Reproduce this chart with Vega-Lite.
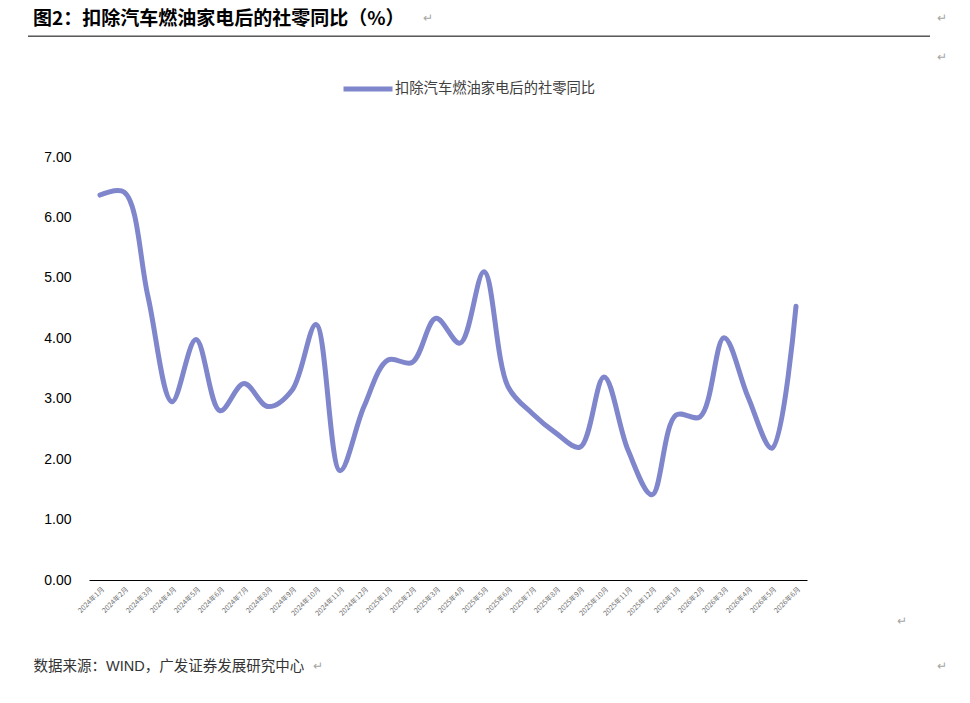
{
  "$schema": "https://vega.github.io/schema/vega-lite/v6.json",
  "autosize": {"type": "none"},
  "width": 718,
  "height": 423,
  "padding": {"left": 89, "top": 157, "right": 163, "bottom": 123},
  "background": "white",
  "config": {
    "view": {"stroke": null},
    "font": "Liberation Sans, Noto Sans CJK SC"
  },
  "title": {
    "text": "图2：扣除汽车燃油家电后的社零同比（%）",
    "anchor": "start",
    "frame": "group",
    "dx": -56,
    "offset": -26,
    "baseline": "middle",
    "fontSize": 19,
    "fontWeight": "bold",
    "font": "Noto Sans CJK SC",
    "color": "#000000"
  },
  "datasets": {
    "series": [
      {"month": "2024年1月", "value": 6.37, "series": "扣除汽车燃油家电后的社零同比"},
      {"month": "2024年2月", "value": 6.42, "series": "扣除汽车燃油家电后的社零同比"},
      {"month": "2024年3月", "value": 4.69, "series": "扣除汽车燃油家电后的社零同比"},
      {"month": "2024年4月", "value": 2.95, "series": "扣除汽车燃油家电后的社零同比"},
      {"month": "2024年5月", "value": 3.98, "series": "扣除汽车燃油家电后的社零同比"},
      {"month": "2024年6月", "value": 2.80, "series": "扣除汽车燃油家电后的社零同比"},
      {"month": "2024年7月", "value": 3.25, "series": "扣除汽车燃油家电后的社零同比"},
      {"month": "2024年8月", "value": 2.87, "series": "扣除汽车燃油家电后的社零同比"},
      {"month": "2024年9月", "value": 3.14, "series": "扣除汽车燃油家电后的社零同比"},
      {"month": "2024年10月", "value": 4.23, "series": "扣除汽车燃油家电后的社零同比"},
      {"month": "2024年11月", "value": 1.81, "series": "扣除汽车燃油家电后的社零同比"},
      {"month": "2024年12月", "value": 2.87, "series": "扣除汽车燃油家电后的社零同比"},
      {"month": "2025年1月", "value": 3.64, "series": "扣除汽车燃油家电后的社零同比"},
      {"month": "2025年2月", "value": 3.60, "series": "扣除汽车燃油家电后的社零同比"},
      {"month": "2025年3月", "value": 4.33, "series": "扣除汽车燃油家电后的社零同比"},
      {"month": "2025年4月", "value": 3.92, "series": "扣除汽车燃油家电后的社零同比"},
      {"month": "2025年5月", "value": 5.10, "series": "扣除汽车燃油家电后的社零同比"},
      {"month": "2025年6月", "value": 3.20, "series": "扣除汽车燃油家电后的社零同比"},
      {"month": "2025年7月", "value": 2.76, "series": "扣除汽车燃油家电后的社零同比"},
      {"month": "2025年8月", "value": 2.43, "series": "扣除汽车燃油家电后的社零同比"},
      {"month": "2025年9月", "value": 2.20, "series": "扣除汽车燃油家电后的社零同比"},
      {"month": "2025年10月", "value": 3.36, "series": "扣除汽车燃油家电后的社零同比"},
      {"month": "2025年11月", "value": 2.15, "series": "扣除汽车燃油家电后的社零同比"},
      {"month": "2025年12月", "value": 1.41, "series": "扣除汽车燃油家电后的社零同比"},
      {"month": "2026年1月", "value": 2.73, "series": "扣除汽车燃油家电后的社零同比"},
      {"month": "2026年2月", "value": 2.70, "series": "扣除汽车燃油家电后的社零同比"},
      {"month": "2026年3月", "value": 4.01, "series": "扣除汽车燃油家电后的社零同比"},
      {"month": "2026年4月", "value": 3.03, "series": "扣除汽车燃油家电后的社零同比"},
      {"month": "2026年5月", "value": 2.18, "series": "扣除汽车燃油家电后的社零同比"},
      {"month": "2026年6月", "value": 4.53, "series": "扣除汽车燃油家电后的社零同比"}
    ],
    "header_rule": [{"start": 0, "end": 1, "level": 9}],
    "marks": [
      {"px": 0.438, "py": 9.3},
      {"px": 1.008, "py": 9.3},
      {"px": 1.008, "py": 8.65},
      {"px": 0.963, "py": -0.68},
      {"px": 1.008, "py": -1.42},
      {"px": 0.316, "py": -1.42}
    ]
  },
  "resolve": {"scale": {"x": "independent"}},
  "layer": [
    {
      "data": {"name": "series"},
      "mark": {"type": "line", "interpolate": "catmull-rom", "strokeWidth": 5, "strokeCap": "round"},
      "encoding": {
        "x": {
          "field": "month",
          "type": "ordinal",
          "sort": null,
          "scale": {"type": "point", "padding": 0.458},
          "axis": {
            "title": "数据来源：WIND，广发证券发展研究中心",
            "titleX": -56,
            "titleY": 86,
            "titleAlign": "left",
            "titleBaseline": "middle",
            "titleAnchor": "start",
            "titleFontSize": 14.5,
            "titleFontWeight": "normal",
            "titleFont": "Liberation Sans, Noto Sans CJK SC",
            "titleColor": "#333333",
            "labelAngle": -45,
            "labelFontSize": 7,
            "labelColor": "#6f6f6f",
            "labelFont": "Noto Sans CJK SC",
            "labelPadding": 5,
            "ticks": false,
            "domainColor": "#000000",
            "domainWidth": 1,
            "grid": false
          }
        },
        "y": {
          "field": "value",
          "type": "quantitative",
          "scale": {"domain": [0, 7], "nice": false},
          "axis": {
            "title": null,
            "values": [0, 1, 2, 3, 4, 5, 6, 7],
            "format": ".2f",
            "labelFontSize": 14,
            "labelFontWeight": "normal",
            "labelColor": "#000000",
            "labelPadding": 18,
            "ticks": false,
            "domain": false,
            "grid": false
          }
        },
        "color": {
          "field": "series",
          "type": "nominal",
          "scale": {"range": ["#7f86cc"]},
          "legend": {
            "title": null,
            "orient": "none",
            "legendX": 252,
            "legendY": -95,
            "symbolType": "stroke",
            "symbolSize": 2400,
            "symbolStrokeWidth": 5,
            "labelFontSize": 14.3,
            "labelColor": "#404040",
            "labelFont": "Noto Sans CJK SC",
            "labelOffset": 0,
            "labelLimit": 400
          }
        }
      }
    },
    {
      "data": {"name": "header_rule"},
      "mark": {"type": "rule", "color": "#000000", "strokeWidth": 1},
      "encoding": {
        "x": {"field": "start", "type": "quantitative", "scale": {"domain": [0, 1], "range": [-61, 841]}, "axis": null},
        "x2": {"field": "end"},
        "y": {"field": "level", "type": "quantitative"}
      }
    },
    {
      "data": {"name": "marks"},
      "mark": {"type": "text", "text": "↵", "fontSize": 12, "color": "#a6a6a6", "baseline": "middle", "align": "left"},
      "encoding": {
        "x": {"field": "px", "type": "quantitative", "scale": {"domain": [0, 1], "range": [-61, 841]}, "axis": null},
        "y": {"field": "py", "type": "quantitative"}
      }
    }
  ]
}
